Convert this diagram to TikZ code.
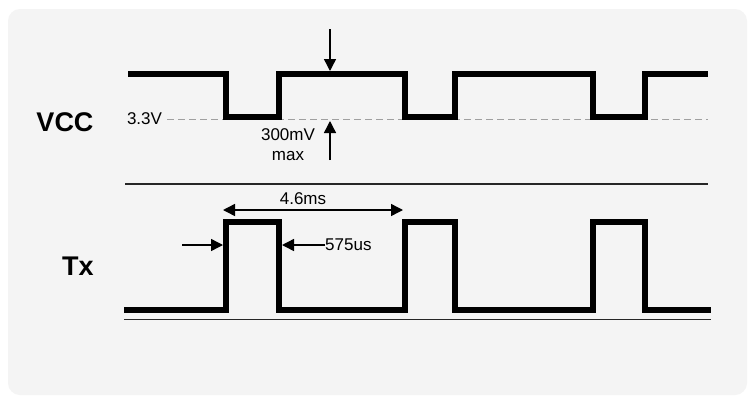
\documentclass[tikz,border=0pt]{standalone}
\usepackage{fontspec}
\setmainfont{Liberation Sans}
\usetikzlibrary{arrows.meta}
\definecolor{bg}{HTML}{F4F4F4}
\definecolor{dashgrey}{HTML}{A0A0A0}
\begin{document}
\begin{tikzpicture}[x=1pt,y=-1pt,
  wave/.style={line width=6pt, line join=miter, line cap=butt},
  rule/.style={line width=1.6pt, draw=black!85},
  dimarrow/.style={line width=1.4pt, -{Triangle[length=12pt,width=12pt]}},
  dimboth/.style={line width=1.4pt, {Triangle[length=12pt,width=12pt]}-{Triangle[length=12pt,width=12pt]}},
  bigtxt/.style={font=\fontsize{27}{30}\selectfont\bfseries, inner sep=0pt},
  smalltxt/.style={font=\fontsize{17}{19}\selectfont, inner sep=0pt}]
\useasboundingbox (0,0) rectangle (748,397);
\fill[white] (0,0) rectangle (748,397);
\fill[bg, rounded corners=12pt] (8,9) rectangle (747,395);

% labels
\node[bigtxt] (vcc) at (65,122) {VCC};
\node[bigtxt] (tx) at (78,266) {Tx};
\node[smalltxt] (v33) at (144.5,119) {3.3V};
\node[smalltxt] (mv) at (288,135) {300mV};
\node[smalltxt] (max) at (288,156) {max};
\node[smalltxt] (t46) at (303,199) {4.6ms};
\node[smalltxt, anchor=west] (t575) at (325,245) {575us};

% dashed reference
\coordinate (d1) at (167,119.5);
\coordinate (d2) at (708,119.5);
\draw[dashgrey, line width=1.4pt, dash pattern=on 7pt off 4pt] (d1) -- (d2);

% VCC waveform
\draw[wave] (128,74) -- (226,74) -- (226,117) -- (279,117) -- (279,74)
  -- (405,74) -- (405,117) -- (455,117) -- (455,74)
  -- (593,74) -- (593,117) -- (645,117) -- (645,74) -- (708,74);

% separator lines
\coordinate (s1) at (125,184);
\coordinate (s2) at (708,184);
\draw[rule] (s1) -- (s2);
\coordinate (b1) at (124,319.5);
\coordinate (b2) at (711,319.5);
\draw[rule] (b1) -- (b2);

% Tx waveform
\draw[wave] (124,310) -- (226,310) -- (226,222) -- (279,222) -- (279,310)
  -- (405,310) -- (405,222) -- (455,222) -- (455,310)
  -- (593,310) -- (593,222) -- (645,222) -- (645,310) -- (711,310);

% ripple arrows
\coordinate (a1) at (330,29);
\coordinate (a2) at (330,71);
\draw[dimarrow] (a1) -- (a2);
\coordinate (a3) at (330,160);
\coordinate (a4) at (330,121);
\draw[dimarrow] (a3) -- (a4);

% period
\coordinate (p1) at (223,210);
\coordinate (p2) at (403,210);
\draw[dimboth] (p1) -- (p2);

% pulse width
\coordinate (w1) at (182,245);
\coordinate (w2) at (223,245);
\draw[dimarrow] (w1) -- (w2);
\coordinate (w4) at (282,245);
\draw[dimarrow] (t575.west) -- (w4);
\end{tikzpicture}
\end{document}
